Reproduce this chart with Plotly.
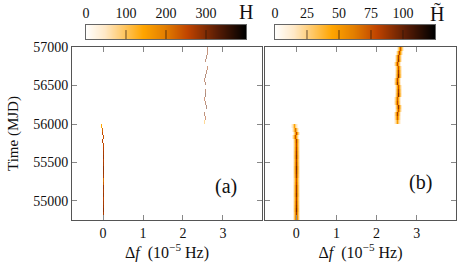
import numpy as np
import plotly.graph_objs as go

# time rows (MJD bin centres, 50 d wide)
mjd_low = [54775, 54825, 54875, 54925, 54975, 55025, 55075, 55125, 55175, 55225,
           55275, 55325, 55375, 55425, 55475, 55525, 55575, 55625, 55675, 55725,
           55775, 55825, 55875, 55925, 55975]
mjd_high = [56025, 56075, 56125, 56175, 56225, 56275, 56325, 56375, 56425, 56475,
            56525, 56575, 56625, 56675, 56725, 56775, 56825, 56875, 56925, 56975]

# panel (a): H along the two tracks
df_a_low = [0, 0, 0, 0, 0, 0, 0, 0, 0, 0, 0, 0, 0, 0, 0, 0, 0, 0, 0, 0,
            -0.025, 0, -0.025, -0.025, -0.05]
h_a_low = [280, 270, 290, 280, 270, 260, 280, 270, 280, 230, 210, 270, 280, 290,
           270, 260, 280, 270, 260, 250, 260, 240, 250, 220, 140]
df_a_high = [2.525, 2.55, 2.525, 2.55, 2.575, 2.55, 2.525, 2.55, 2.55, 2.575,
             2.55, 2.525, 2.55, 2.575, 2.6, 2.575, 2.55, 2.575, 2.6, 2.6]
h_a_high = [120, 280, 300, 0, 320, 300, 280, 330, 300, 0, 310, 290, 320, 300,
            280, 0, 300, 310, 290, 300]

# panel (b): H~ along the two tracks
df_b_low = [0, 0, 0, 0, 0, 0, 0, 0, 0, 0, 0, 0, 0, 0, 0, 0, 0, 0, 0, 0,
            0, -0.025, 0, -0.025, -0.05]
h_b_low = [92, 88, 96, 92, 88, 84, 92, 88, 88, 80, 76, 88, 92, 96,
           88, 84, 92, 88, 84, 80, 84, 76, 80, 66, 45]
df_b_high = [2.525, 2.525, 2.525, 2.55, 2.55, 2.525, 2.525, 2.55, 2.55, 2.55,
             2.525, 2.525, 2.55, 2.55, 2.55, 2.525, 2.55, 2.55, 2.575, 2.6]
h_b_high = [50, 72, 86, 76, 90, 80, 72, 94, 86, 76, 90, 80, 94, 86, 76, 80,
            90, 86, 80, 72]
track_profile = [0.15, 0.35, 0.6, 1.0, 0.6, 0.35, 0.15]

cbar_a_ticks = [0, 100, 200, 300]
cbar_b_ticks = [0, 25, 50, 75, 100]

step = 0.025
xgrid = np.arange(-32, 161) * step
ygrid = mjd_low + mjd_high


def make_z(tracks, profile=(1.0,)):
    z = np.full((len(ygrid), len(xgrid)), np.nan)
    half = len(profile) // 2
    for mjd, dfs, hs in tracks:
        for t, d, h in zip(mjd, dfs, hs):
            if h <= 0:
                continue
            r = ygrid.index(t)
            c = int(round(d / step)) + 32
            for k, w in enumerate(profile):
                cc = c + k - half
                v = h * w
                if np.isnan(z[r, cc]) or z[r, cc] < v:
                    z[r, cc] = v
    return z


cs = [[0, '#ffffff'], [0.12, '#ffe9c8'], [0.36, '#ffa500'], [0.5, '#e27d00'],
      [0.64, '#bf4300'], [0.82, '#5a1d05'], [1, '#000000']]

z_a1 = make_z([(mjd_low, df_a_low, h_a_low)])
z_a2 = make_z([(mjd_high, df_a_high, h_a_high)])
z_b = make_z([(mjd_low, df_b_low, h_b_low), (mjd_high, df_b_high, h_b_high)],
             track_profile)

data = []
data.append(go.Heatmap(x=xgrid, y=ygrid, z=z_a1, zmin=0, zmax=400, colorscale=cs,
                       showscale=False, xaxis='x', yaxis='y'))
data.append(go.Heatmap(x=xgrid, y=ygrid, z=z_a2, zmin=0, zmax=400, colorscale=cs,
                       showscale=False, opacity=0.5, xaxis='x', yaxis='y'))
data.append(go.Heatmap(x=xgrid, y=ygrid, z=z_b, zmin=0, zmax=125, colorscale=cs,
                       showscale=False, xaxis='x2', yaxis='y2'))

# colour bars drawn as strips
cb_a = np.linspace(0, 400, 161)
cb_b = np.linspace(0, 125, 161)
data.append(go.Heatmap(x=cb_a, y=[0], z=[cb_a], zmin=0, zmax=400, colorscale=cs,
                       showscale=False, xaxis='x3', yaxis='y3'))
data.append(go.Heatmap(x=cb_b, y=[0], z=[cb_b], zmin=0, zmax=125, colorscale=cs,
                       showscale=False, xaxis='x4', yaxis='y4'))

font = dict(family='Liberation Serif', size=14, color='#111')
tickfont = dict(family='Liberation Serif', size=14, color='#111')
xtitle = dict(text='Δ<i>f</i>  (10<sup>−5</sup> Hz)', font=dict(size=16), standoff=6)

panel_x = dict(range=[-0.78, 3.98], tickvals=[0, 1, 2, 3], ticks='inside', ticklen=5,
               tickcolor='#888', showline=True, linecolor='#555', linewidth=1,
               mirror='ticks', showgrid=False, zeroline=False, tickfont=tickfont,
               title=xtitle, automargin=False)
panel_y = dict(range=[54753, 57000], tickvals=[55000, 55500, 56000, 56500, 57000],
               tickformat='d', ticks='inside', ticklen=5, tickcolor='#888',
               showline=True, linecolor='#555', linewidth=1, mirror='ticks',
               showgrid=False, zeroline=False, tickfont=tickfont, automargin=False)

cbar_x = dict(side='top', ticks='', showline=True, linecolor='#666', mirror=True,
              showgrid=False, zeroline=False, tickfont=tickfont, automargin=False)
cbar_y = dict(range=[-0.5, 0.5], showticklabels=False, ticks='', showline=True,
              linecolor='#666', mirror=True, showgrid=False, zeroline=False,
              automargin=False)

shapes = []
for v in cbar_a_ticks[1:]:
    shapes.append(dict(type='line', xref='x3', yref='y3 domain', x0=v, x1=v, y0=0, y1=1,
                       line=dict(color='rgba(40,20,10,0.7)', width=1, dash='dash')))
for v in cbar_b_ticks[1:]:
    shapes.append(dict(type='line', xref='x4', yref='y4 domain', x0=v, x1=v, y0=0, y1=1,
                       line=dict(color='rgba(40,20,10,0.7)', width=1, dash='dash')))


def label(text, x, y, size):
    return dict(text=text, x=x, y=y, xref='paper', yref='paper', showarrow=False,
                xanchor='center', yanchor='middle', font=dict(size=size))


layout = go.Layout(
    width=472, height=275, margin=dict(l=0, r=0, t=0, b=0, autoexpand=False),
    paper_bgcolor='white', plot_bgcolor='white', font=font, showlegend=False,
    xaxis=dict(panel_x, domain=[0.1525, 0.5551], anchor='y'),
    yaxis=dict(panel_y, domain=[0.2, 0.829], anchor='x',
               title=dict(text='Time (MJD)', font=dict(size=15), standoff=10)),
    xaxis2=dict(panel_x, domain=[0.5614, 0.9661], anchor='y2'),
    yaxis2=dict(panel_y, domain=[0.2, 0.829], anchor='x2', showticklabels=False),
    xaxis3=dict(cbar_x, range=[0, 400], tickvals=cbar_a_ticks,
                domain=[0.1822, 0.5212], anchor='y3'),
    yaxis3=dict(cbar_y, domain=[0.858, 0.909], anchor='x3'),
    xaxis4=dict(cbar_x, range=[0, 125], tickvals=cbar_b_ticks,
                domain=[0.5826, 0.9216], anchor='y4'),
    yaxis4=dict(cbar_y, domain=[0.858, 0.909], anchor='x4'),
    shapes=shapes,
    annotations=[
        label('(a)', 0.479, 0.32, 20),
        label('(b)', 0.89, 0.335, 20),
        label('H', 0.522, 0.955, 20),
        label('H\u0303', 0.926, 0.95, 20),
    ],
)

fig = go.Figure(data=data, layout=layout)
# page body margin would shift the 472x275 figure inside the window
fig.write_html("out.html", config={'displayModeBar': False},
               post_script="document.body.style.margin='0px';")
